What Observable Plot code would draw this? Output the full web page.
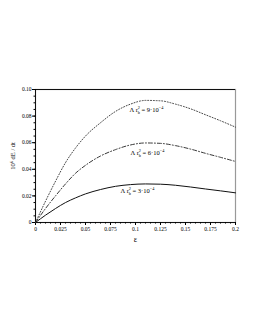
<!DOCTYPE html>
<html><head><meta charset="utf-8">
<script src="https://cdn.jsdelivr.net/npm/d3@7"></script>
<script src="https://cdn.jsdelivr.net/npm/@observablehq/plot@0.6"></script>
<style>html,body{margin:0;padding:0;background:#fff;}</style>
</head><body><div id="chart"></div>
<script>
const eps     = [0, 0.01, 0.02, 0.03, 0.04, 0.05, 0.065, 0.08, 0.095, 0.11, 0.125, 0.14, 0.155, 0.17, 0.185, 0.2];
const curve3  = [0, 0.0055, 0.0105, 0.015, 0.0185, 0.0215, 0.0248, 0.0272, 0.0285, 0.029, 0.0288, 0.028, 0.0267, 0.0252, 0.0238, 0.0223];
const curve6  = [0, 0.0105, 0.020, 0.029, 0.037, 0.043, 0.050, 0.0548, 0.0583, 0.0598, 0.0595, 0.0578, 0.0552, 0.052, 0.049, 0.0459];
const curve9  = [0, 0.016, 0.031, 0.045, 0.056, 0.065, 0.075, 0.0835, 0.089, 0.0918, 0.0915, 0.089, 0.0855, 0.081, 0.0765, 0.0717];
const seriesNames = ["3", "6", "9"];
const labelEps = [0.085, 0.095, 0.094];
const labelVal = [0.024, 0.0526, 0.085];
const xTicks = [0, 0.025, 0.05, 0.075, 0.1, 0.125, 0.15, 0.175, 0.2];
const xTickLabels = ["0", "0.025", "0.05", "0.075", "0.1", "0.125", "0.15", "0.175", "0.2"];
const yTicks = [0, 0.02, 0.04, 0.06, 0.08, 0.1];
const yTickLabels = ["0", "0.02", "0.04", "0.06", "0.08", "0.10"];
const xMinor = d3.range(0, 41).map(i => i * 0.005);
const yMinor = d3.range(0, 21).map(i => i * 0.005);

const rows = (vals) => eps.map((e, i) => ({e, v: vals[i]}));
const labels = seriesNames.map((s, i) => ({e: labelEps[i], v: labelVal[i], s}));

const chart = Plot.plot({
  width: 255, height: 330,
  marginLeft: 35, marginRight: 20, marginTop: 89, marginBottom: 108,
  style: {fontFamily: "'Liberation Serif', 'DejaVu Serif', serif", fontSize: "5.5px", background: "#fff", color: "#000"},
  x: {domain: [0, 0.2]},
  y: {domain: [0, 0.1]},
  marks: [
    Plot.frame({stroke: "#999", strokeWidth: 1.2}),
    Plot.ruleY([0, 0.1], {stroke: "#000", strokeWidth: 0.9}),
    Plot.ruleX([0], {stroke: "#000", strokeWidth: 0.9}),
    Plot.axisX({ticks: xMinor, tickSize: 1.5, text: null, label: null}),
    Plot.axisY({ticks: yMinor, tickSize: 1.5, text: null, label: null}),
    Plot.axisX({ticks: xTicks, tickSize: 3, tickPadding: 2, tickFormat: (d, i) => xTickLabels[i],
      label: "ε", labelAnchor: "center", labelArrow: "none", labelOffset: 19, fontSize: 5.5}),
    Plot.axisY({ticks: yTicks, tickSize: 3, tickPadding: 1, tickFormat: (d, i) => yTickLabels[i],
      label: "10⁶ dE / dt", labelAnchor: "center", labelArrow: "none", labelOffset: 25, fontSize: 5.5}),
    Plot.line(rows(curve3), {x: "e", y: "v", curve: "monotone-x", stroke: "#111", strokeWidth: 1}),
    Plot.line(rows(curve6), {x: "e", y: "v", curve: "monotone-x", stroke: "#222", strokeWidth: 0.9, strokeDasharray: "4,2,1,2"}),
    Plot.line(rows(curve9), {x: "e", y: "v", curve: "monotone-x", stroke: "#333", strokeWidth: 0.9, strokeDasharray: "1,1.8"}),
    Plot.text(labels, {x: "e", y: "v", text: d => "LBL" + d.s, textAnchor: "start", fontSize: 6.5, fill: "#000"})
  ]
});
document.getElementById("chart").appendChild(chart);

// build the symbolic labels with stacked super/subscripts
const NS = "http://www.w3.org/2000/svg";
chart.querySelectorAll("text").forEach(t => {
  const s = t.textContent;
  if (!s.startsWith("LBL")) return;
  const n = s.slice(3);
  t.textContent = "";
  const parts = [
    {txt: "Λ r", dy: 0},
    {txt: "2", dy: -2.4, size: 4.3},
    {txt: "b", dy: 4.6, size: 4.3, dx: -2.2},
    {txt: " = " + n + "·10", dy: -2.2},
    {txt: "−4", dy: -2.6, size: 4.3},
  ];
  parts.forEach(p => {
    const ts = document.createElementNS(NS, "tspan");
    ts.textContent = p.txt;
    ts.setAttribute("dy", p.dy);
    if (p.dx) ts.setAttribute("dx", p.dx);
    if (p.size) ts.setAttribute("font-size", p.size);
    t.appendChild(ts);
  });
});
chart.querySelectorAll("[aria-label='x-axis label'] text, [aria-label='x-axis label']").forEach(e => e.setAttribute("font-size", 8));
chart.querySelectorAll("[aria-label='y-axis label'] text, [aria-label='y-axis label']").forEach(e => e.setAttribute("font-size", 6.5));
</script>
</body></html>
